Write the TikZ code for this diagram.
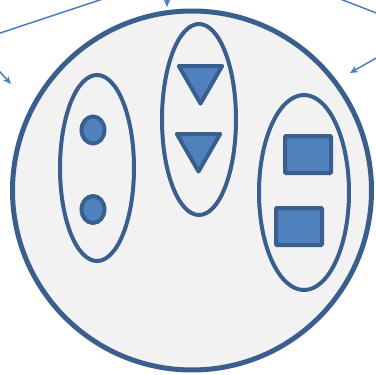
\documentclass[tikz,border=0pt]{standalone}
\usetikzlibrary{shapes.geometric,arrows.meta}
\definecolor{edgeblue}{HTML}{3A5F8F}
\definecolor{fillblue}{HTML}{4F81BD}
\definecolor{arrowblue}{HTML}{4A7EBF}
\definecolor{bgray}{HTML}{F2F2F2}
\tikzset{
  bigset/.style={circle,draw=edgeblue,fill=bgray,line width=5pt,inner sep=0pt,minimum size=359pt},
  group/.style={ellipse,draw=edgeblue,line width=4pt,inner sep=0pt},
  dot/.style={ellipse,draw=edgeblue,fill=fillblue,line width=4pt,inner sep=0pt,minimum width=23pt,minimum height=27pt},
  tri/.style={regular polygon,regular polygon sides=3,shape border rotate=180,draw=edgeblue,fill=fillblue,line width=4pt,line join=round,inner sep=0pt,minimum size=50pt},
  sq/.style={rectangle,draw=edgeblue,fill=fillblue,line width=4pt,rounded corners=1pt,inner sep=0pt,minimum width=46pt,minimum height=37pt},
  conn/.style={draw=arrowblue,line width=1.5pt,-{Stealth[length=8pt,width=7pt,inset=2.5pt]}},
}
\begin{document}
\begin{tikzpicture}[x=1pt,y=-1pt]
\useasboundingbox (0,0) rectangle (376,375);
\clip (0,0) rectangle (376,375);
\node[bigset] (U) at (192,190.5) {};
\node[group,minimum width=74pt,minimum height=186pt] (G1) at (97,168) {};
\node[group,minimum width=74pt,minimum height=191pt] (G2) at (199,119.5) {};
\node[group,minimum width=90pt,minimum height=195pt] (G3) at (304,192.5) {};
\node[dot] (c1) at (93,130) {};
\node[dot] (c2) at (93,209.5) {};
\node[tri] (t1) at (200.5,78.5) {};
\node[tri] (t2) at (198.5,146.5) {};
\node[sq] (s1) at (308,154.5) {};
\node[sq] (s2) at (299,226.5) {};
\coordinate (a1s) at (-30,43);
\coordinate (a1e) at (130,-10);
\coordinate (a2s) at (-30,39);
\coordinate (a2e) at (11,84);
\coordinate (a3s) at (167,-40);
\coordinate (a3e) at (167,7);
\coordinate (a4s) at (330,-5);
\coordinate (a4e) at (420,30);
\coordinate (a5s) at (420,33);
\coordinate (a5e) at (350,73);
\draw[conn] (a1s) -- (a1e);
\draw[conn] (a2s) -- (a2e);
\draw[conn] (a3s) -- (a3e);
\draw[conn] (a4s) -- (a4e);
\draw[conn] (a5s) -- (a5e);
\end{tikzpicture}
\end{document}
